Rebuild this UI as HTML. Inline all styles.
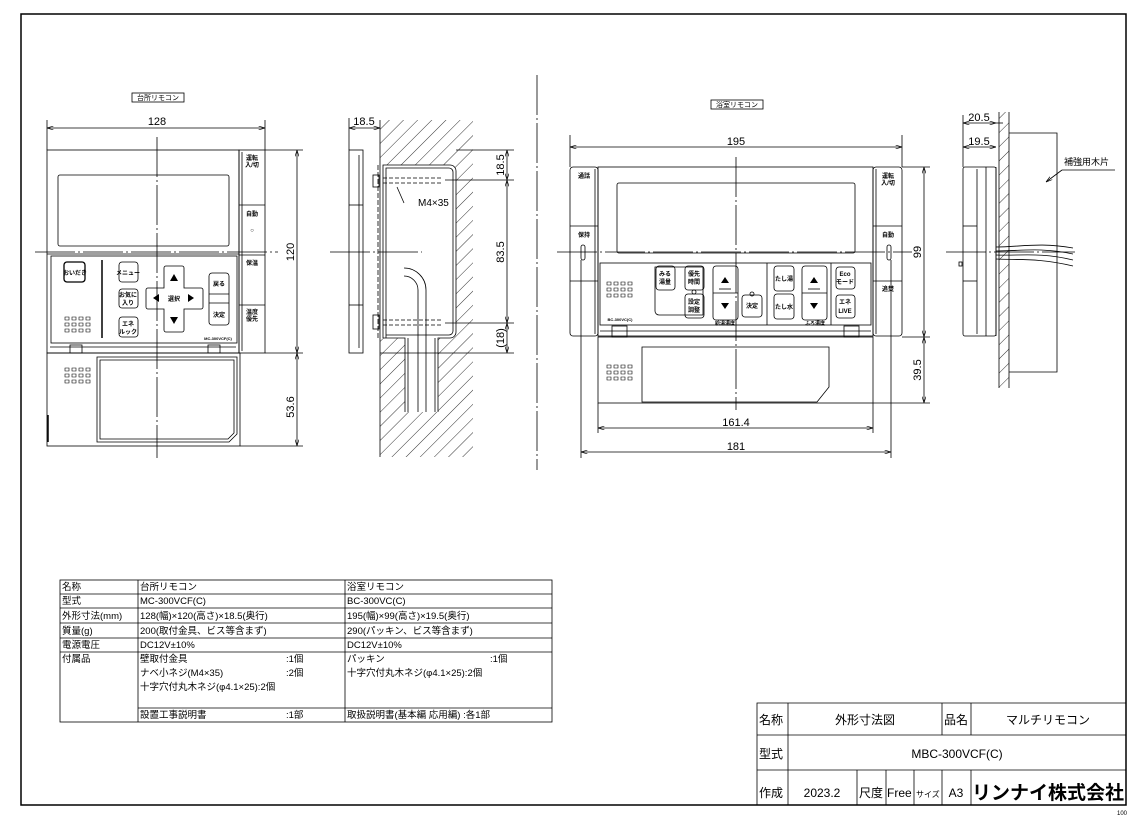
<!DOCTYPE html>
<html><head><meta charset="utf-8"><style>
html,body{margin:0;padding:0;background:#fff;}
svg{display:block;font-family:"Liberation Sans","Noto Sans CJK JP",sans-serif;}
.t{font-size:10px;fill:#000;}
.b{font-size:6px;font-weight:bold;fill:#000;}
</style></head><body>
<svg width="1135" height="818" viewBox="0 0 1135 818" xmlns="http://www.w3.org/2000/svg">
<defs>
<pattern id="h" width="10" height="10" patternUnits="userSpaceOnUse" patternTransform="rotate(45)">
<line x1="0" y1="0" x2="0" y2="10" stroke="#000" stroke-width="0.8"/>
</pattern>
<marker id="a" viewBox="0 0 10 6" refX="10" refY="3" markerWidth="8" markerHeight="5" orient="auto-start-reverse"><path d="M0,0 L10,3 L0,6" fill="none" stroke="#000"/></marker>
</defs>
<rect x="21" y="14" width="1105" height="791" fill="none" stroke="#000" stroke-width="1.5"/>

<g fill="none" stroke="#000" stroke-width="0.8">
<!-- ============ Kitchen front ============ -->
<rect x="132" y="93" width="52" height="9"/>
<rect x="47" y="150" width="192" height="203"/>
<rect x="239" y="150" width="26" height="203"/>
<line x1="239" y1="205" x2="265" y2="205"/><line x1="239" y1="255" x2="265" y2="255"/><line x1="239" y1="305" x2="265" y2="305"/>
<line x1="242" y1="152" x2="242" y2="351"/>
<rect x="58" y="175" width="171" height="71" rx="2"/>
<line x1="47" y1="254" x2="239" y2="254"/>
<rect x="51" y="256" width="186" height="87"/>
<line x1="102" y1="260" x2="102" y2="338" stroke-width="1.5"/>
<rect x="64" y="262" width="21" height="20" rx="3" stroke-width="1.3"/>
<rect x="119" y="262" width="19" height="20" rx="3"/>
<rect x="119" y="289" width="19" height="19" rx="3"/>
<rect x="119" y="317" width="19" height="20" rx="3"/>
<path d="M164,268 a2,2 0 0 1 2,-2 h16 a2,2 0 0 1 2,2 v20 h17 a2,2 0 0 1 2,2 v17 a2,2 0 0 1 -2,2 h-17 v21 a2,2 0 0 1 -2,2 h-16 a2,2 0 0 1 -2,-2 v-21 h-16 a2,2 0 0 1 -2,-2 v-17 a2,2 0 0 1 2,-2 h16 z"/>
<rect x="209" y="273" width="20" height="52" rx="3"/>
<line x1="209" y1="294" x2="229" y2="294"/><line x1="209" y1="303" x2="229" y2="303"/>
<rect x="47" y="353" width="193" height="93"/>
<line x1="50" y1="347" x2="236" y2="347"/>
<rect x="70" y="345" width="12" height="8"/><rect x="208" y="345" width="12" height="8"/>
<path d="M97,357 h140 v77 l-8,8 h-132 z"/>
<path d="M100,360 h134 v73 l-6,6 h-128 z"/>
<line x1="48" y1="415" x2="48" y2="442" stroke-width="1.5"/>
<!-- speaker grids -->
<g stroke-width="0.6">
<path d="M65,317h4v3h-4zM72,317h4v3h-4zM79,317h4v3h-4zM86,317h4v3h-4zM65,323h4v3h-4zM72,323h4v3h-4zM79,323h4v3h-4zM86,323h4v3h-4zM65,329h4v3h-4zM72,329h4v3h-4zM79,329h4v3h-4zM86,329h4v3h-4z"/>
<path d="M65,368h4v3h-4zM72,368h4v3h-4zM79,368h4v3h-4zM86,368h4v3h-4zM65,374h4v3h-4zM72,374h4v3h-4zM79,374h4v3h-4zM86,374h4v3h-4zM65,380h4v3h-4zM72,380h4v3h-4zM79,380h4v3h-4zM86,380h4v3h-4z"/>
<path d="M607,282h4v3h-4zM614,282h4v3h-4zM621,282h4v3h-4zM628,282h4v3h-4zM607,288h4v3h-4zM614,288h4v3h-4zM621,288h4v3h-4zM628,288h4v3h-4zM607,294h4v3h-4zM614,294h4v3h-4zM621,294h4v3h-4zM628,294h4v3h-4z"/>
<path d="M607,365h4v3h-4zM614,365h4v3h-4zM621,365h4v3h-4zM628,365h4v3h-4zM607,371h4v3h-4zM614,371h4v3h-4zM621,371h4v3h-4zM628,371h4v3h-4zM607,377h4v3h-4zM614,377h4v3h-4zM621,377h4v3h-4zM628,377h4v3h-4z"/>
</g>
<!-- center lines -->
<line x1="157" y1="137" x2="157" y2="458" stroke-dasharray="40,3,2,3"/>
<line x1="35" y1="252" x2="278" y2="252" stroke-dasharray="40,3,2,3"/>
<!-- dims -->
<line x1="47" y1="120" x2="47" y2="150"/><line x1="265" y1="120" x2="265" y2="150"/>
<line x1="47" y1="128" x2="265" y2="128" marker-start="url(#a)" marker-end="url(#a)"/>
<line x1="265" y1="150" x2="303" y2="150"/><line x1="265" y1="353" x2="303" y2="353"/><line x1="240" y1="446" x2="303" y2="446"/>
<line x1="297" y1="150" x2="297" y2="353" marker-start="url(#a)" marker-end="url(#a)"/>
<line x1="297" y1="353" x2="297" y2="446" marker-start="url(#a)" marker-end="url(#a)"/>

<!-- ============ Kitchen side ============ -->
<rect x="349" y="150" width="14" height="203"/>
<line x1="359" y1="155" x2="359" y2="348"/>
<line x1="349" y1="205" x2="363" y2="205"/><line x1="349" y1="305" x2="363" y2="305"/>
<path d="M380,120 V165 H450 a6,6 0 0 1 6,6 V332 a6,6 0 0 1 -6,6 H438 V412 H405 V338 H380 V457 H473 V120 Z" fill="url(#h)" stroke="none"/>
<line x1="380" y1="120" x2="380" y2="457"/>
<path d="M383,338 V165 H450 a6,6 0 0 1 6,6 V332 a6,6 0 0 1 -6,6 H438 V412 M405,412 V338 H383"/>
<path d="M386,338 V168 H449 a4,4 0 0 1 4,4 V331 a4,4 0 0 1 -4,4 H386"/>
<line x1="408" y1="338" x2="408" y2="412"/><line x1="435" y1="338" x2="435" y2="412"/>
<path d="M418,412 V290 a14,14 0 0 0 -14,-14 M426,412 V290 a22,22 0 0 0 -22,-22"/>
<line x1="378" y1="165" x2="378" y2="340" stroke-dasharray="5,2"/>
<line x1="383" y1="178" x2="442" y2="178" stroke-dasharray="4,2"/><line x1="383" y1="183" x2="442" y2="183" stroke-dasharray="4,2"/>
<line x1="383" y1="320" x2="442" y2="320" stroke-dasharray="4,2"/><line x1="383" y1="325" x2="442" y2="325" stroke-dasharray="4,2"/>
<rect x="373" y="175" width="6" height="12"/><rect x="373" y="315" width="6" height="14"/>
<line x1="397" y1="187" x2="404" y2="203"/>
<line x1="330" y1="252" x2="422" y2="252" stroke-dasharray="40,3,2,3"/>
<line x1="349" y1="118" x2="349" y2="150"/>
<line x1="349" y1="128" x2="380" y2="128" marker-start="url(#a)" marker-end="url(#a)"/>
<line x1="456" y1="150" x2="514" y2="150"/><line x1="445" y1="180" x2="514" y2="180"/><line x1="445" y1="323" x2="514" y2="323"/><line x1="380" y1="353" x2="514" y2="353"/>
<line x1="507" y1="150" x2="507" y2="180" marker-start="url(#a)" marker-end="url(#a)"/>
<line x1="507" y1="180" x2="507" y2="323" marker-start="url(#a)" marker-end="url(#a)"/>
<line x1="507" y1="323" x2="507" y2="353" marker-start="url(#a)" marker-end="url(#a)"/>

<!-- divider -->
<line x1="537" y1="75" x2="537" y2="470" stroke-dasharray="40,3,2,3"/>

<!-- ============ Bath front ============ -->
<rect x="711" y="100" width="52" height="9"/>
<rect x="570" y="167" width="28" height="169" rx="3"/>
<rect x="873" y="167" width="29" height="169" rx="3"/>
<line x1="570" y1="226" x2="598" y2="226"/><line x1="570" y1="281" x2="598" y2="281"/>
<line x1="873" y1="226" x2="902" y2="226"/><line x1="873" y1="281" x2="902" y2="281"/>
<rect x="598" y="167" width="275" height="169"/>
<line x1="595" y1="169" x2="595" y2="334"/><line x1="876" y1="169" x2="876" y2="334"/>
<rect x="617" y="183" width="238" height="70" rx="2"/>
<rect x="600" y="263" width="271" height="62"/>
<path d="M655,267 h48 v48 h-44 a4,4 0 0 1 -4,-4 z"/>
<rect x="656" y="266" width="19" height="24" rx="3"/>
<rect x="685" y="266" width="19" height="24" rx="3"/>
<rect x="685" y="294" width="19" height="24" rx="3"/>
<circle cx="694" cy="292" r="2"/>
<rect x="713" y="266" width="25" height="54" rx="3"/>
<line x1="713" y1="293" x2="738" y2="293"/>
<rect x="742" y="295" width="20" height="22" rx="3"/>
<circle cx="752" cy="294" r="2"/>
<line x1="767" y1="263" x2="767" y2="325"/>
<rect x="774" y="266" width="20" height="25" rx="3"/>
<rect x="774" y="294" width="20" height="25" rx="3"/>
<rect x="802" y="266" width="25" height="54" rx="3"/>
<line x1="802" y1="293" x2="827" y2="293"/>
<line x1="831" y1="263" x2="831" y2="325"/>
<rect x="836" y="267" width="19" height="22" rx="3"/>
<rect x="836" y="295" width="19" height="23" rx="3"/>
<rect x="598" y="337" width="275" height="66"/>
<line x1="600" y1="331" x2="871" y2="331"/>
<rect x="612" y="326" width="15" height="11"/><rect x="844" y="326" width="15" height="11"/>
<path d="M642,347 h187 v40 l-12,15 h-175 z"/>
<rect x="581" y="245" width="4" height="15" rx="2"/><rect x="887" y="245" width="4" height="15" rx="2"/>
<line x1="736" y1="157" x2="736" y2="410" stroke-dasharray="40,3,2,3"/>
<line x1="557" y1="252" x2="912" y2="252" stroke-dasharray="40,3,2,3"/>
<line x1="570" y1="135" x2="570" y2="167"/><line x1="902" y1="135" x2="902" y2="167"/>
<line x1="570" y1="147" x2="902" y2="147" marker-start="url(#a)" marker-end="url(#a)"/>
<line x1="902" y1="167" x2="930" y2="167"/><line x1="902" y1="337" x2="930" y2="337"/><line x1="873" y1="403" x2="930" y2="403"/>
<line x1="924" y1="167" x2="924" y2="337" marker-start="url(#a)" marker-end="url(#a)"/>
<line x1="924" y1="337" x2="924" y2="403" marker-start="url(#a)" marker-end="url(#a)"/>
<line x1="598" y1="403" x2="598" y2="433"/><line x1="873" y1="403" x2="873" y2="433"/>
<line x1="598" y1="428" x2="873" y2="428" marker-start="url(#a)" marker-end="url(#a)"/>
<line x1="581" y1="260" x2="581" y2="458"/><line x1="891" y1="260" x2="891" y2="458"/>
<line x1="581" y1="452" x2="891" y2="452" marker-start="url(#a)" marker-end="url(#a)"/>

<!-- ============ Bath side ============ -->
<rect x="963" y="167" width="33" height="169" rx="2"/>
<line x1="977" y1="169" x2="977" y2="334"/><line x1="986" y1="167" x2="986" y2="336"/>
<line x1="963" y1="226" x2="977" y2="226"/><line x1="963" y1="281" x2="977" y2="281"/>
<rect x="999" y="112" width="10" height="276" fill="url(#h)" stroke="none"/>
<line x1="999" y1="112" x2="999" y2="388"/><line x1="1009" y1="112" x2="1009" y2="388"/>
<line x1="996" y1="167" x2="996" y2="336"/>
<path d="M1009,133 H1057 V372 H1009"/>
<path d="M996,247 C1020,247 1040,242 1073,248 M996,251 C1020,251 1040,247 1073,254 M996,255 C1020,256 1040,252 1073,260 M996,259 C1020,260 1040,258 1073,266"/>
<rect x="959" y="262" width="3" height="4"/>
<line x1="946" y1="252" x2="1075" y2="252" stroke-dasharray="40,3,2,3"/>
<line x1="963" y1="115" x2="963" y2="167"/>
<line x1="963" y1="123" x2="996" y2="123" marker-start="url(#a)" marker-end="url(#a)"/>
<line x1="963" y1="147" x2="996" y2="147" marker-start="url(#a)" marker-end="url(#a)"/>
<line x1="996" y1="123" x2="1003" y2="123"/>
<path d="M1062,170 L1046,182" marker-end="url(#a)"/>
<line x1="1062" y1="170" x2="1115" y2="170"/>

<!-- ============ spec table ============ -->
<rect x="60" y="580" width="492" height="142"/>
<line x1="60" y1="594" x2="552" y2="594"/><line x1="60" y1="608" x2="552" y2="608"/>
<line x1="60" y1="623" x2="552" y2="623"/><line x1="60" y1="638" x2="552" y2="638"/>
<line x1="60" y1="652" x2="552" y2="652"/><line x1="138" y1="708" x2="552" y2="708"/>
<line x1="138" y1="580" x2="138" y2="722"/><line x1="345" y1="580" x2="345" y2="722"/>

<!-- ============ title block ============ -->
<path d="M757,805 V703 H1126"/>
<line x1="757" y1="735" x2="1126" y2="735"/><line x1="757" y1="770" x2="1126" y2="770"/>
<line x1="788" y1="703" x2="788" y2="805"/>
<line x1="942" y1="703" x2="942" y2="735"/><line x1="971" y1="703" x2="971" y2="735"/>
<line x1="857" y1="770" x2="857" y2="805"/><line x1="886" y1="770" x2="886" y2="805"/>
<line x1="914" y1="770" x2="914" y2="805"/><line x1="942" y1="770" x2="942" y2="805"/>
<line x1="971" y1="770" x2="971" y2="805"/>
</g>

<!-- arrows on keypads (filled triangles) -->
<g fill="#000">
<path d="M170,281 l4,-7 l4,7z M170,317 l4,7 l4,-7z M153,298 l6,-4 v8z M194,298 l-6,-4 v8z"/>
<path d="M721,283 l4,-6 l4,6z M721,303 l4,6 l4,-6z M810,283 l4,-6 l4,6z M810,303 l4,6 l4,-6z"/>
</g>
<g fill="none" stroke="#000" stroke-width="0.8"><line x1="719" y1="289" x2="731" y2="289"/><line x1="808" y1="289" x2="820" y2="289"/></g>

<!-- button/text labels -->
<text class="b" x="75" y="275" text-anchor="middle">おいだき</text>
<text class="b" x="128" y="275" text-anchor="middle">メニュー</text>
<text class="b" x="128" y="297" text-anchor="middle">お気に</text><text class="b" x="128" y="305" text-anchor="middle">入り</text>
<text class="b" x="128" y="326" text-anchor="middle">エネ</text><text class="b" x="128" y="334" text-anchor="middle">ルック</text>
<text class="b" x="174" y="301" text-anchor="middle">選択</text>
<text class="b" x="219" y="286" text-anchor="middle">戻る</text>
<text class="b" x="219" y="317" text-anchor="middle">決定</text>
<text class="b" x="252" y="160" text-anchor="middle">運転</text><text class="b" x="252" y="167" text-anchor="middle">入/切</text>
<text class="b" x="252" y="216" text-anchor="middle">自動</text>
<text class="b" x="252" y="232" text-anchor="middle">○</text>
<text class="b" x="252" y="265" text-anchor="middle">保温</text>
<text class="b" x="252" y="314" text-anchor="middle">温度</text><text class="b" x="252" y="321" text-anchor="middle">優先</text>
<text class="b" x="218" y="340" text-anchor="middle" style="font-size:4px">MC-300VCF(C)</text>
<text class="b" x="584" y="178" text-anchor="middle">通話</text>
<text class="b" x="584" y="237" text-anchor="middle">保持</text>
<text class="b" x="888" y="178" text-anchor="middle">運転</text><text class="b" x="888" y="185" text-anchor="middle">入/切</text>
<text class="b" x="888" y="237" text-anchor="middle">自動</text>
<text class="b" x="888" y="291" text-anchor="middle">追焚</text>
<text class="b" x="665" y="276" text-anchor="middle">みる</text><text class="b" x="665" y="284" text-anchor="middle">湯量</text>
<text class="b" x="694" y="276" text-anchor="middle">優先</text><text class="b" x="694" y="284" text-anchor="middle">時間</text>
<text class="b" x="694" y="304" text-anchor="middle">設定</text><text class="b" x="694" y="312" text-anchor="middle">調整</text>
<text class="b" x="752" y="308" text-anchor="middle">決定</text>
<text class="b" x="784" y="281" text-anchor="middle">たし湯</text>
<text class="b" x="784" y="309" text-anchor="middle">たし水</text>
<text class="b" x="845" y="276" text-anchor="middle">Eco</text><text class="b" x="845" y="284" text-anchor="middle">モード</text>
<text class="b" x="845" y="304" text-anchor="middle">エネ</text><text class="b" x="845" y="313" text-anchor="middle">LIVE</text>
<text class="b" x="725" y="325" text-anchor="middle" style="font-size:5px">給湯温度</text>
<text class="b" x="815" y="325" text-anchor="middle" style="font-size:5px">ふろ温度</text>
<text class="b" x="620" y="321" text-anchor="middle" style="font-size:4px">BC-300VC(C)</text>

<text class="t" x="158" y="100" text-anchor="middle" style="font-size:7px">台所リモコン</text>
<text class="t" x="737" y="107" text-anchor="middle" style="font-size:7px">浴室リモコン</text>
<text class="t" x="157" y="125" text-anchor="middle" style="font-size:11px">128</text>
<text class="t" x="0" y="0" text-anchor="middle" style="font-size:11px" transform="translate(294,252) rotate(-90)">120</text>
<text class="t" x="0" y="0" text-anchor="middle" style="font-size:11px" transform="translate(294,407) rotate(-90)">53.6</text>
<text class="t" x="364" y="125" text-anchor="middle" style="font-size:11px">18.5</text>
<text class="t" x="418" y="206" style="font-size:10px">M4×35</text>
<text class="t" x="0" y="0" text-anchor="middle" style="font-size:11px" transform="translate(504,165) rotate(-90)">18.5</text>
<text class="t" x="0" y="0" text-anchor="middle" style="font-size:11px" transform="translate(504,252) rotate(-90)">83.5</text>
<text class="t" x="0" y="0" text-anchor="middle" style="font-size:11px" transform="translate(504,338) rotate(-90)">(18)</text>
<text class="t" x="736" y="145" text-anchor="middle" style="font-size:11px">195</text>
<text class="t" x="0" y="0" text-anchor="middle" style="font-size:11px" transform="translate(921,252) rotate(-90)">99</text>
<text class="t" x="0" y="0" text-anchor="middle" style="font-size:11px" transform="translate(921,370) rotate(-90)">39.5</text>
<text class="t" x="736" y="426" text-anchor="middle" style="font-size:11px">161.4</text>
<text class="t" x="736" y="450" text-anchor="middle" style="font-size:11px">181</text>
<text class="t" x="979" y="121" text-anchor="middle" style="font-size:11px">20.5</text>
<text class="t" x="979" y="145" text-anchor="middle" style="font-size:11px">19.5</text>
<text class="t" x="1064" y="165" style="font-size:9px">補強用木片</text>

<g class="t" style="font-size:9.5px">
<text x="62" y="590">名称</text><text x="140" y="590">台所リモコン</text><text x="347" y="590">浴室リモコン</text>
<text x="62" y="604">型式</text><text x="140" y="604">MC-300VCF(C)</text><text x="347" y="604">BC-300VC(C)</text>
<text x="62" y="619">外形寸法(mm)</text><text x="140" y="619">128(幅)×120(高さ)×18.5(奥行)</text><text x="347" y="619">195(幅)×99(高さ)×19.5(奥行)</text>
<text x="62" y="634">質量(g)</text><text x="140" y="634">200(取付金具、ビス等含まず)</text><text x="347" y="634">290(パッキン、ビス等含まず)</text>
<text x="62" y="648">電源電圧</text><text x="140" y="648">DC12V±10%</text><text x="347" y="648">DC12V±10%</text>
<text x="62" y="662">付属品</text>
<text x="140" y="662">壁取付金具</text><text x="286" y="662">:1個</text>
<text x="140" y="676">ナベ小ネジ(M4×35)</text><text x="286" y="676">:2個</text>
<text x="140" y="690">十字穴付丸木ネジ(φ4.1×25):2個</text>
<text x="347" y="662">パッキン</text><text x="490" y="662">:1個</text>
<text x="347" y="676">十字穴付丸木ネジ(φ4.1×25):2個</text>
<text x="140" y="718">設置工事説明書</text><text x="286" y="718">:1部</text>
<text x="347" y="718">取扱説明書(基本編 応用編) :各1部</text>
</g>

<g class="t" style="font-size:12px">
<text x="759" y="724">名称</text>
<text x="865" y="724" text-anchor="middle">外形寸法図</text>
<text x="944" y="724">品名</text>
<text x="1048" y="724" text-anchor="middle">マルチリモコン</text>
<text x="759" y="758">型式</text>
<text x="957" y="758" text-anchor="middle">MBC-300VCF(C)</text>
<text x="759" y="797">作成</text>
<text x="822" y="797" text-anchor="middle">2023.2</text>
<text x="859" y="797">尺度</text>
<text x="887" y="797">Free</text>
<text x="916" y="797" style="font-size:8px">サイズ</text>
<text x="956" y="797" text-anchor="middle">A3</text>
<text x="1048" y="799" text-anchor="middle" style="font-size:19px;font-weight:bold">リンナイ株式会社</text>
</g>
<text class="t" x="1117" y="815" style="font-size:6px">100</text>
</svg>
</body></html>
